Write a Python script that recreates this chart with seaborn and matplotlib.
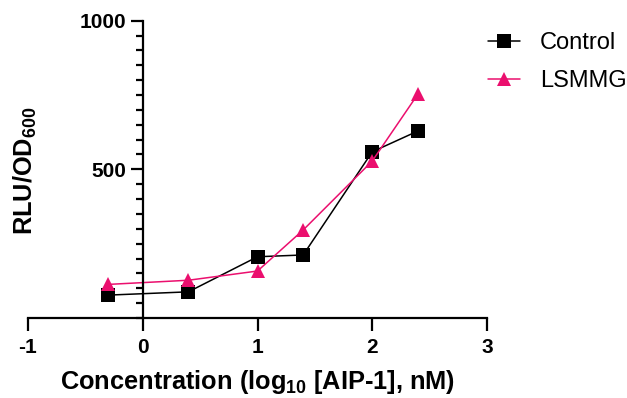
import matplotlib
matplotlib.use("Agg")
import matplotlib.pyplot as plt
import seaborn as sns
import pandas as pd
from matplotlib.ticker import MultipleLocator

conc_log = [-0.301, 0.398, 1.0, 1.398, 2.0, 2.398]
control = [77, 88, 206, 212, 559, 629]
lsmmg = [113, 127, 158, 296, 528, 753]
groups = ["Control", "LSMMG"]
colors = {"Control": "#000000", "LSMMG": "#EB0F6E"}
markers = {"Control": "s", "LSMMG": "^"}

df = pd.DataFrame({
    "x": conc_log * 2,
    "y": control + lsmmg,
    "group": ["Control"] * len(control) + ["LSMMG"] * len(lsmmg),
})

sns.set_style("ticks")
plt.rcParams["font.family"] = ["Liberation Sans", "DejaVu Sans"]
plt.rcParams["mathtext.fontset"] = "custom"
plt.rcParams["mathtext.rm"] = "Liberation Sans"
plt.rcParams["mathtext.bf"] = "Liberation Sans:bold"
for k in ["text.color", "axes.labelcolor", "xtick.color", "ytick.color",
          "axes.edgecolor"]:
    plt.rcParams[k] = "black"

fig = plt.figure(figsize=(6.27, 3.98), dpi=100)
ax = fig.add_axes([28 / 627, 1 - 318 / 398, 459 / 627, 297.3 / 398])

sns.lineplot(data=df, x="x", y="y", hue="group", style="group",
             palette=colors, markers=markers, dashes=False,
             markersize=9.5, markeredgewidth=0, linewidth=1.1, ax=ax,
             legend=True)

ax.set_xlim(-1, 3)
ax.set_ylim(0, 1000)
ax.spines["left"].set_position(("data", 0))
ax.spines["right"].set_visible(False)
ax.spines["top"].set_visible(False)
for s in ["left", "bottom"]:
    ax.spines[s].set_linewidth(1.6)
    ax.spines[s].set_color("black")
ax.set_xticks([-1, 0, 1, 2, 3])
ax.set_xticklabels(["-1", "0", "1", "2", "3"])
ax.set_yticks([500, 1000])
ax.set_yticklabels(["500", "1000"])
ax.yaxis.set_minor_locator(MultipleLocator(50))
ax.tick_params(axis="both", which="major", length=9, width=1.6,
               labelsize=15, colors="black")
ax.tick_params(axis="x", which="major", pad=5.5)
ax.tick_params(axis="y", which="major", pad=3)
ax.tick_params(axis="y", which="minor", length=5, width=1.6, colors="black")
for lab in ax.get_xticklabels() + ax.get_yticklabels():
    lab.set_fontweight("bold")

ax.set_xlabel(r"Concentration (log$_{\mathbf{10}}$ [AIP-1], nM)",
              fontsize=18.3, fontweight="bold", color="black")
ax.xaxis.set_label_coords(0.5, (318 - 368) / 297.3)
ax.set_ylabel(r"RLU/OD$_{\mathbf{600}}$", fontsize=18.3, fontweight="bold",
              color="black")
ax.yaxis.set_label_coords(39 / 627, 1 - 170.5 / 398, transform=fig.transFigure)

leg = ax.legend(loc="upper left", bbox_to_anchor=(478.5 / 627, 1 - 22.5 / 398),
                bbox_transform=fig.transFigure, frameon=False,
                fontsize=17, handlelength=1.36, handletextpad=0.85,
                labelspacing=0.69, borderaxespad=0)
for t in leg.get_texts():
    t.set_color("black")

fig.savefig("out.png", dpi=100)
